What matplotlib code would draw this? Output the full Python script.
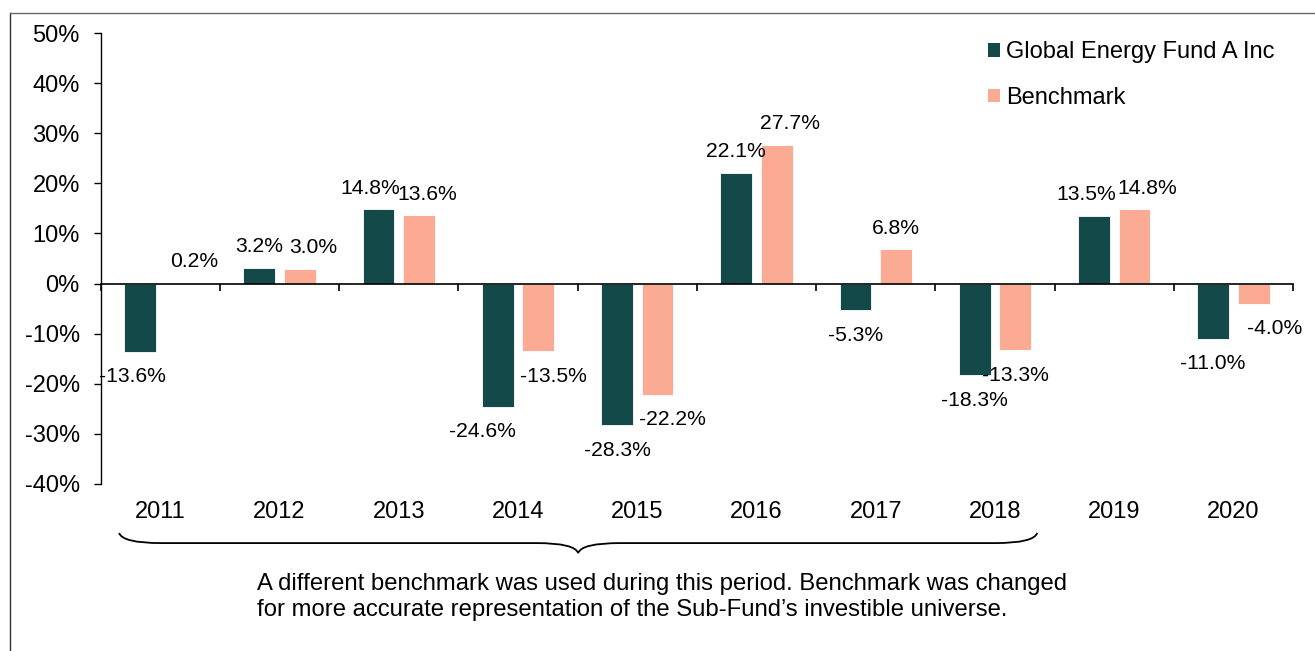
import matplotlib
matplotlib.use("Agg")
import matplotlib.pyplot as plt
import numpy as np
from matplotlib.path import Path
from matplotlib.patches import PathPatch, Patch
from matplotlib.lines import Line2D
from matplotlib.transforms import blended_transform_factory

plt.rcParams['font.family'] = ['Liberation Sans', 'DejaVu Sans']

years = ['2011', '2012', '2013', '2014', '2015', '2016', '2017', '2018', '2019', '2020']
fund = [-13.6, 3.2, 14.8, -24.6, -28.3, 22.1, -5.3, -18.3, 13.5, -11.0]
bench = [0.2, 3.0, 13.6, -13.5, -22.2, 27.7, 6.8, -13.3, 14.8, -4.0]
series_names = ['Global Energy Fund A Inc', 'Benchmark']
y_ticks = [-40, -30, -20, -10, 0, 10, 20, 30, 40, 50]
note = ("A different benchmark was used during this period. Benchmark was changed\n"
        "for more accurate representation of the Sub-Fund\u2019s investible universe.")

# label horizontal nudges (pixels) to mimic the reference's placement
fund_dx = [-8, 0, -8, -15, 0, 0, 0, 0, -8, 0]
bench_dx = [14, 13, 8, 15, 15, 13, 0, 0, 13, 21]

c_fund = '#14494A'
c_bench = '#FBAA94'
FS = 17
FS_LAB = 15.2

W, H = 1315, 651
fig = plt.figure(figsize=(W / 100, H / 100), dpi=100)
ax = fig.add_axes([100.7 / W, 1 - 484 / H, (1293 - 100.7) / W, (484 - 33) / H])

x = np.arange(len(years))
bw = 0.267
off = 0.17
ax.bar(x - off, fund, bw, color=c_fund, edgecolor='white', linewidth=0.6, zorder=2)
ax.bar(x + off, bench, bw, color=c_bench, edgecolor='white', linewidth=0.6, zorder=2)

ax.set_xlim(-0.5, len(years) - 0.5)
ax.set_ylim(-40, 50)
ax.set_yticks(y_ticks)
ax.set_yticklabels([f'{t}%' for t in y_ticks], fontsize=FS)
ax.tick_params(axis='y', direction='out', length=5, width=1, pad=10, colors='black')

for s in ['top', 'right']:
    ax.spines[s].set_visible(False)
ax.spines['bottom'].set_position(('data', 0))
ax.spines['bottom'].set_zorder(3)
ax.spines['left'].set_linewidth(1)
ax.spines['bottom'].set_linewidth(1.2)
ax.set_xticks(np.arange(len(years) + 1) - 0.5)
ax.set_xticklabels([])
ax.tick_params(axis='x', direction='out', length=5, width=1.2)

trans = blended_transform_factory(ax.transData, ax.transAxes)
for i, yr in enumerate(years):
    ax.text(i, -0.062, yr, transform=trans, ha='center', va='center', fontsize=FS)

def lab(xc, v, dx):
    dy = 21 if v >= 0 else -25
    ax.annotate(f'{v:.1f}%', (xc, v), xytext=(dx, dy), textcoords='offset pixels',
                ha='center', va='center', fontsize=FS_LAB, zorder=4)

for i in range(len(years)):
    lab(x[i] - off, fund[i], fund_dx[i])
    lab(x[i] + off, bench[i], bench_dx[i])

# legend
handles = [Patch(facecolor=c_fund), Patch(facecolor=c_bench)]
fig.legend(handles, series_names, loc='upper left', bbox_to_anchor=(979 / W, 1 - 32 / H),
           frameon=False, fontsize=FS, handlelength=0.5, handleheight=0.5,
           handletextpad=0.25, labelspacing=1.0, borderaxespad=0)

# brace under 2011-2018
x0, x1 = -0.346, 7.355
xm = (x0 + x1) / 2
yt, ym, yb = -0.1086, -0.131, -0.153
r = 0.35
verts = [(x0, yt), (x0 + 0.03, ym), (x0 + r, ym),
         (xm - r, ym),
         (xm - 0.03, ym), (xm, yb),
         (xm + 0.03, ym), (xm + r, ym),
         (x1 - r, ym),
         (x1 - 0.03, ym), (x1, yt)]
codes = [Path.MOVETO, Path.CURVE3, Path.CURVE3,
         Path.LINETO,
         Path.CURVE3, Path.CURVE3,
         Path.CURVE3, Path.CURVE3,
         Path.LINETO,
         Path.CURVE3, Path.CURVE3]
ax.add_patch(PathPatch(Path(verts, codes), transform=trans, fill=False,
                       edgecolor='black', linewidth=1.3, clip_on=False))

fig.text(257 / W, 1 - 597 / H, note, ha='left', va='center', fontsize=17.2, linespacing=1.2)

# outer frame lines (left and top)
fig.add_artist(Line2D([9.5 / W, 9.5 / W], [0, 1 - 12.5 / H], transform=fig.transFigure,
                      color='#333333', linewidth=1))
fig.add_artist(Line2D([9.5 / W, 1], [1 - 12.5 / H, 1 - 12.5 / H], transform=fig.transFigure,
                      color='#666666', linewidth=1))

fig.savefig('out.png', dpi=100)
